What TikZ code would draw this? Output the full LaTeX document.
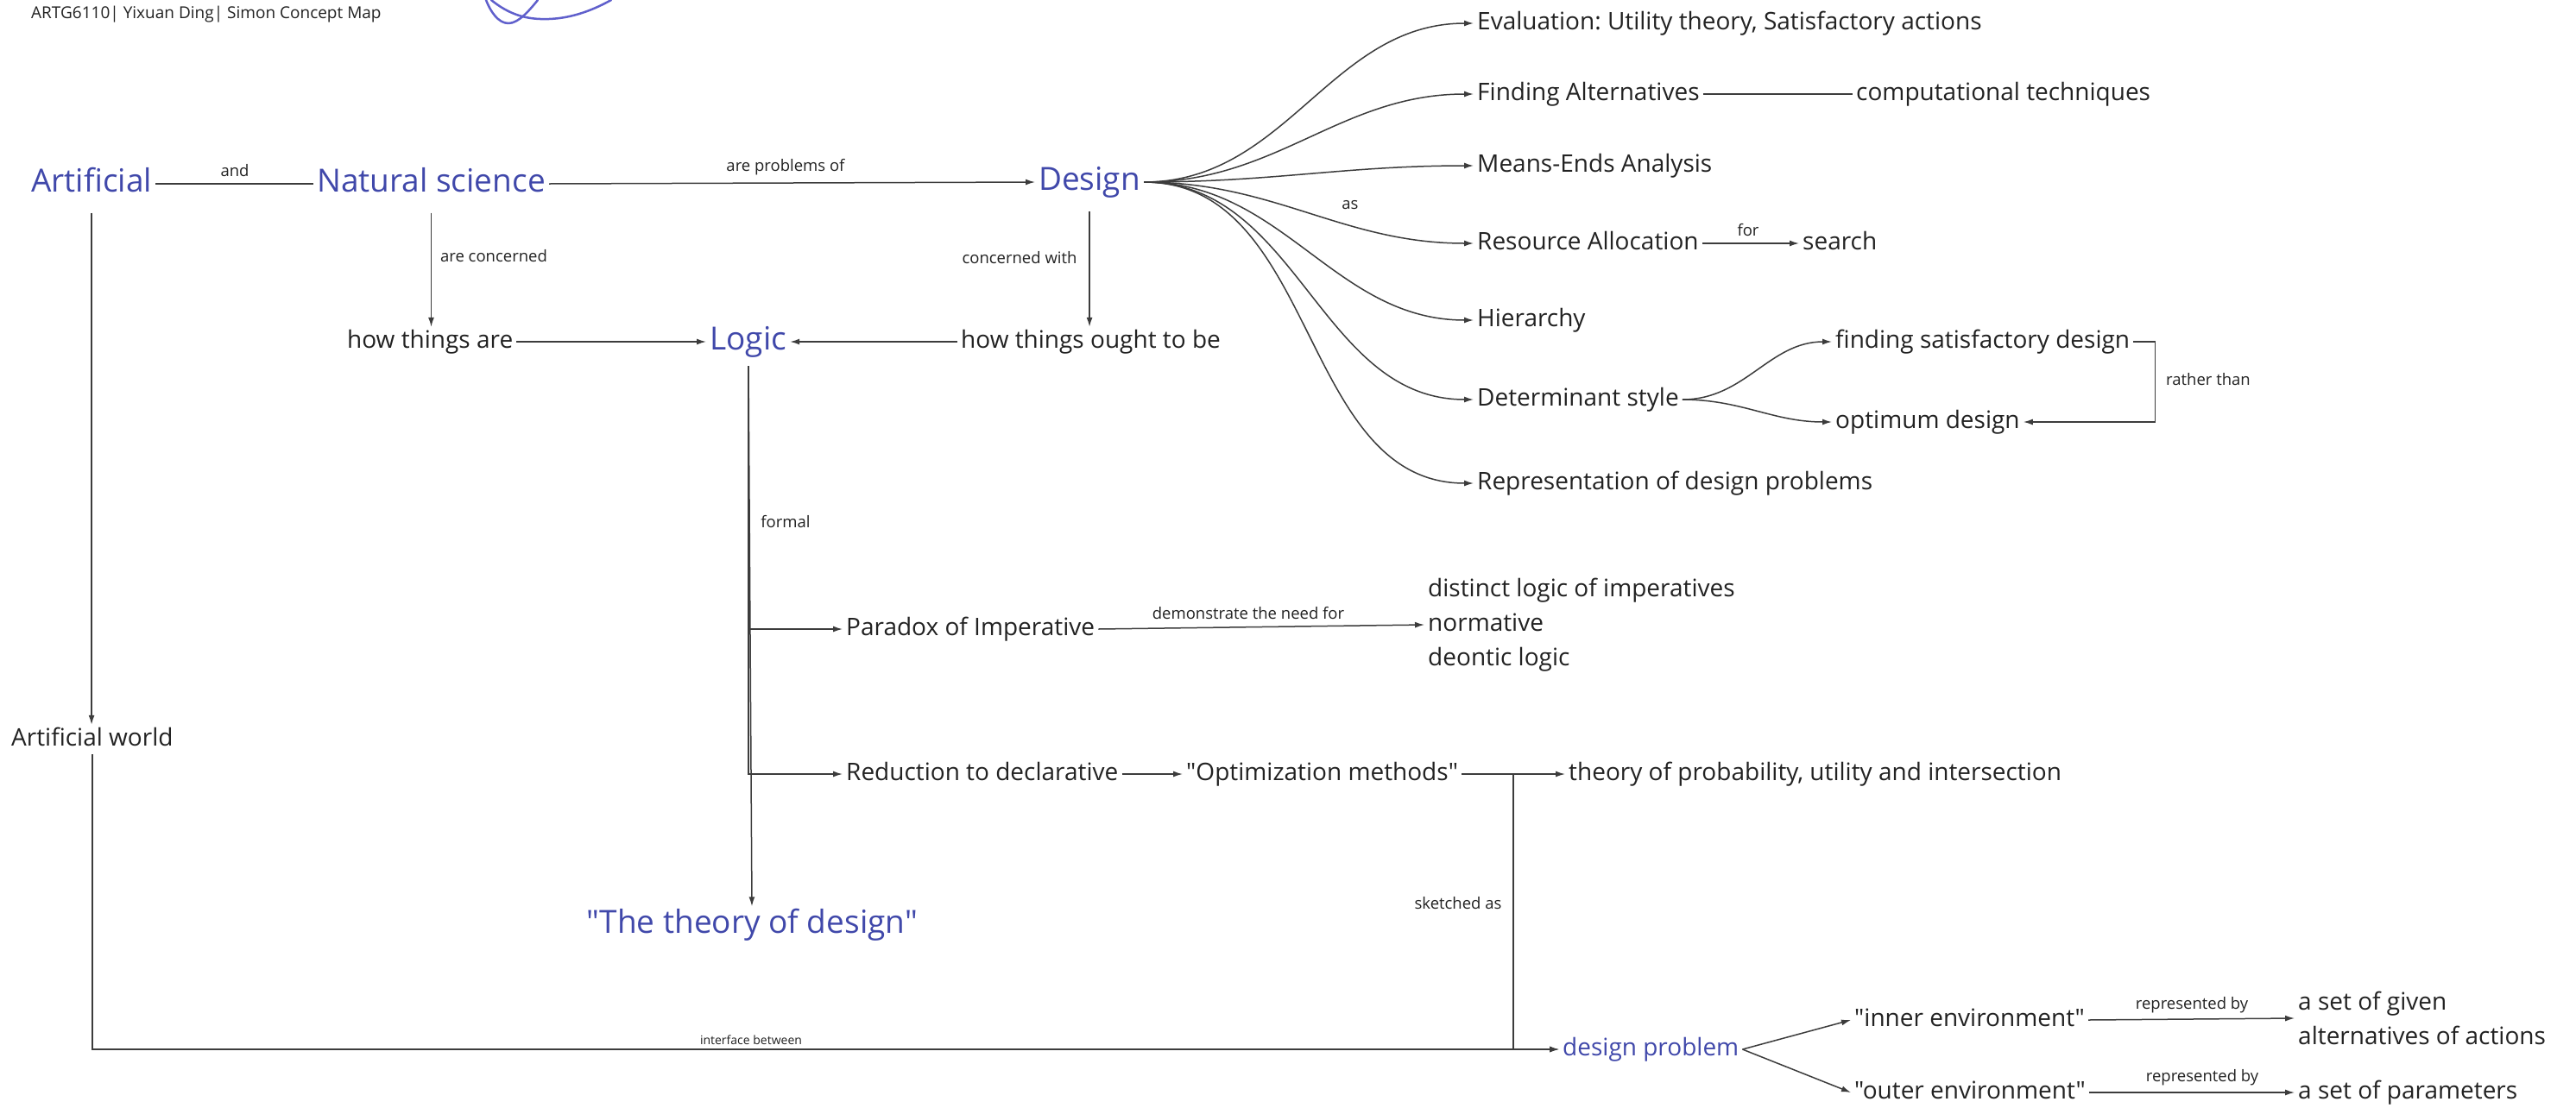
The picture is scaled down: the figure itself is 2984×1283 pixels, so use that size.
\documentclass[tikz,border=0pt]{standalone}
\usepackage{fontspec}
\setmainfont{Open Sans}[Ligatures=TeXOff]
\usetikzlibrary{arrows.meta}
\definecolor{conceptblue}{RGB}{64,72,170}
\definecolor{scribbleblue}{RGB}{96,96,204}
\definecolor{ink}{RGB}{34,34,34}
\definecolor{wire}{RGB}{60,60,60}
\tikzset{
  txt/.style={font=\fontsize{28}{38}\selectfont, text=ink, inner xsep=4pt, inner ysep=3pt,
              text height=21pt, text depth=7pt, anchor=west, yshift=-4pt},
  multi/.style={font=\fontsize{28}{40}\selectfont, text=ink, inner xsep=4pt, inner ysep=3pt,
              align=left, anchor=west, yshift=-4pt},
  big/.style={font=\fontsize{37}{44}\selectfont, text=conceptblue, inner xsep=4pt, inner ysep=3pt,
              text height=28pt, text depth=9pt, anchor=west, yshift=-4pt},
  bluetxt/.style={txt, text=conceptblue},
  lbl/.style={font=\fontsize{18.5}{22}\selectfont, text=ink, inner sep=0pt, yshift=-2pt},
  tinylbl/.style={font=\fontsize{14}{17}\selectfont, text=ink, inner sep=0pt, yshift=-2pt},
  conn/.style={draw=wire, line width=1.5pt},
  arr/.style={conn, -{Latex[length=11pt,width=7pt]}},
  scribble/.style={draw=scribbleblue, line width=2.5pt, line cap=round, line join=round}
}
\begin{document}
\frenchspacing
\begin{tikzpicture}[x=1pt, y=-1pt]
\useasboundingbox (0,0) rectangle (2984,1283);
\fill[white] (0,0) rectangle (2984,1283);

% heading and pen scribble
\node[anchor=west, inner sep=0pt, font=\fontsize{19}{23}\selectfont, text=ink] (title) at (36,17)
  {ARTG6110| Yixuan Ding| Simon Concept Map};
\draw[scribble] (563,0) .. controls (568,13) and (577,27) .. (589,27)
  .. controls (601,27) and (614,11) .. (623,0);
\draw[scribble] (569,0) .. controls (590,17) and (610,23) .. (636,22)
  .. controls (665,21) and (690,10) .. (708,0);

% main concepts
\node[big] (art) at (32,209) {Artificial};
\node[big] (nat) at (363,209) {Natural science};
\node[big] (des) at (1199,207) {Design};
\node[txt] (are) at (398,392) {how things are};
\node[big] (logic) at (818,392) {Logic};
\node[txt] (ought) at (1109,392) {how things ought to be};
\node[txt] (aworld) at (9,853) {Artificial world};
\node[big, anchor=center] (theory) at (871,1068) {"The theory of design"};

% design branches
\node[txt] (eval) at (1707,23) {Evaluation: Utility theory, Satisfactory actions};
\node[txt] (find) at (1707,105) {Finding Alternatives};
\node[txt] (comp) at (2146,105) {computational techniques};
\node[txt] (means) at (1707,188) {Means-Ends Analysis};
\node[txt] (res) at (1707,278) {Resource Allocation};
\node[txt] (search) at (2084,278) {search};
\node[txt] (hier) at (1707,367) {Hierarchy};
\node[txt] (det) at (1707,459) {Determinant style};
\node[txt] (sat) at (2122,392) {finding satisfactory design};
\node[txt] (opt) at (2122,485) {optimum design};
\node[txt] (rep) at (1707,556) {Representation of design problems};

% logic branches
\node[txt] (para) at (976,725) {Paradox of Imperative};
\node[multi] (norm) at (1650,720) {distinct logic of imperatives\\normative\\deontic logic};
\node[txt] (red) at (976,893) {Reduction to declarative};
\node[txt] (optim) at (1370,893) {"Optimization methods"};
\node[txt] (prob) at (1813,893) {theory of probability, utility and intersection};

% design problem
\node[bluetxt] (dp) at (1806,1212) {design problem};
\node[txt] (inner) at (2144,1178) {"inner environment"};
\node[txt] (outer) at (2144,1262) {"outer environment"};
\node[multi] (given) at (2658,1176) {a set of given\\alternatives of actions};
\node[txt] (params) at (2658,1262) {a set of parameters};

% top row
\draw[conn] (art.east) -- (nat.west);
\node[lbl] (l-and) at (272,196) {and};
\draw[arr] (nat.east) -- (des.west);
\node[lbl] (l-prob) at (910,192) {are problems of};

% down to how things are / ought to be
\draw[arr] ([yshift=-12pt]nat.south) -- (nat.south |- are.north);
\node[lbl] (l-conc) at (572,295) {are concerned};
\draw[arr] ([yshift=-12pt]des.south) -- (des.south |- ought.north);
\node[lbl] (l-with) at (1181,297) {concerned with};
\draw[arr] (are.east) -- (logic.west);
\draw[arr] (ought.west) -- (logic.east);

% design fan
\draw[arr] (des.east) to[out=0,in=180] (eval.west);
\draw[arr] (des.east) to[out=0,in=180] (find.west);
\draw[arr] (des.east) to[out=0,in=180] (means.west);
\draw[arr] (des.east) to[out=0,in=180] (res.west);
\draw[arr] (des.east) to[out=0,in=180] (hier.west);
\draw[arr] (des.east) to[out=0,in=180] (det.west);
\draw[arr] (des.east) to[out=0,in=180] (rep.west);
\node[lbl] (l-as) at (1564,236) {as};
\draw[conn] (find.east) -- (comp.west);
\draw[arr] (res.east) -- (search.west);
\node[lbl] (l-for) at (2025,265) {for};
\draw[arr] (det.east) to[out=0,in=180] (sat.west);
\draw[arr] (det.east) to[out=0,in=180] (opt.west);
\draw[arr] (sat.east) -- ++(25,0) |- (opt.east);
\node[lbl] (l-rather) at (2558,438) {rather than};

% logic downwards
\coordinate (ltop) at (867,424);
\draw[arr] (ltop) |- (para.west);
\draw[arr] (ltop) |- (red.west);
\draw[arr] (ltop) -- (theory.north);
\node[lbl] (l-formal) at (910,603) {formal};
\draw[arr] (para.east) -- (norm.west);
\node[lbl] (l-dem) at (1446,708) {demonstrate the need for};
\draw[arr] (red.east) -- (optim.west);
\draw[arr] (optim.east) -- (prob.west);
\coordinate (skx) at (1753,0);
\coordinate (sk) at (optim.east -| skx);
\draw[arr] (sk) |- (dp.west);
\node[lbl] (l-sk) at (1689,1045) {sketched as};

% artificial world
\draw[arr] ([yshift=-12pt]art.south) -- (art.south |- aworld.north);
\draw[arr] (aworld.south) |- (dp.west);
\node[tinylbl] (l-int) at (870,1203) {interface between};

% environments
\draw[arr] (dp.east) -- (inner.west);
\draw[arr] (dp.east) -- (outer.west);
\draw[arr] (inner.east) -- (given.west);
\node[lbl] (l-rep1) at (2539,1163) {represented by};
\draw[arr] (outer.east) -- (params.west);
\node[lbl] (l-rep2) at (2551,1247) {represented by};
\end{tikzpicture}
\end{document}
